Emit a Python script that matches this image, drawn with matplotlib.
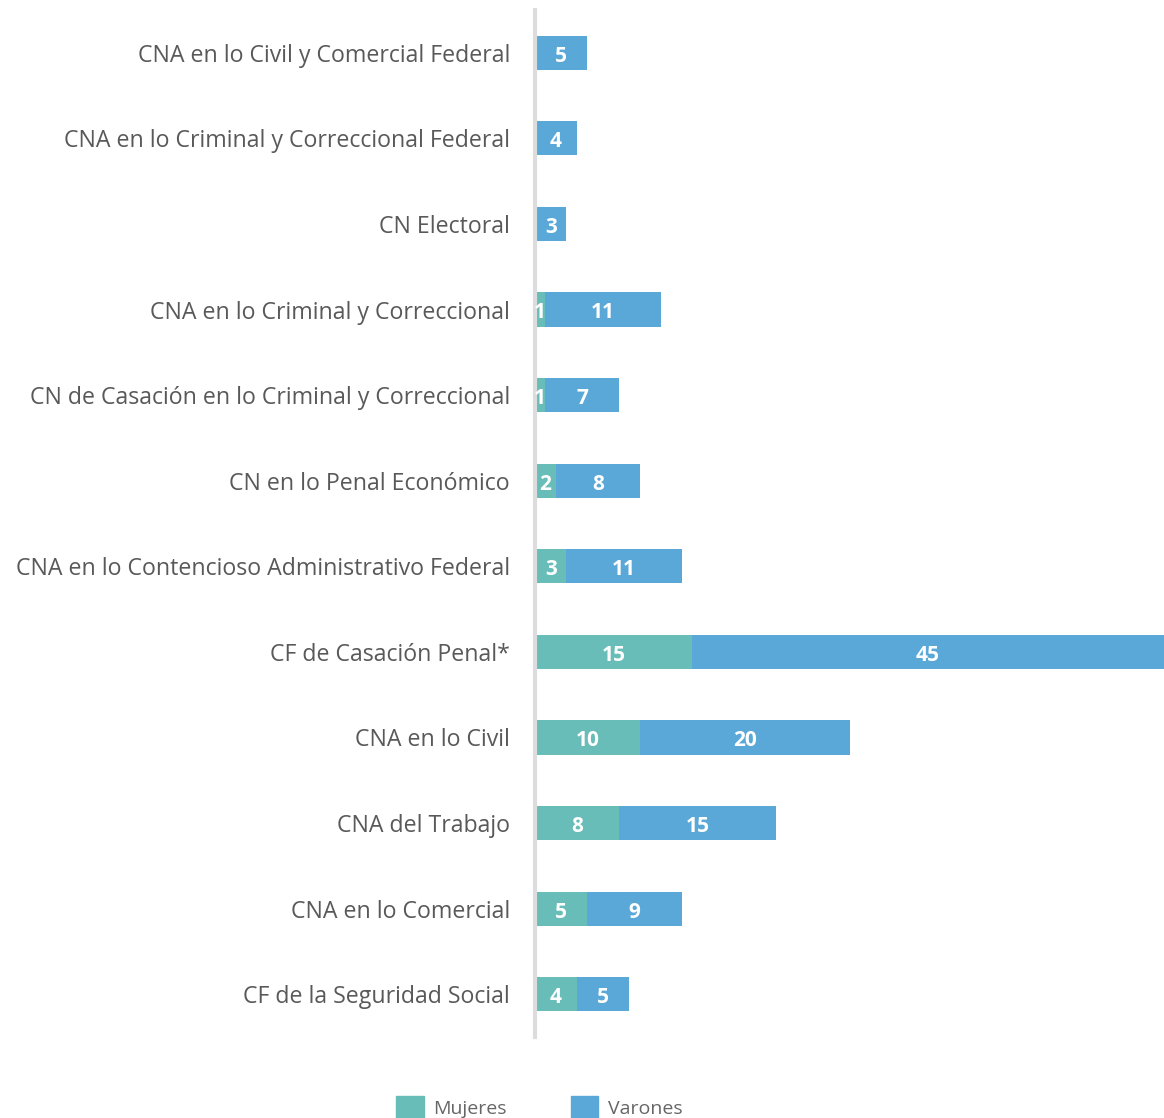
import matplotlib.pyplot as plt
from matplotlib import patches

plt.rcParams['font.family'] = ['Open Sans', 'DejaVu Sans']

camaras = [
    'CNA en lo Civil y Comercial Federal',
    'CNA en lo Criminal y Correccional Federal',
    'CN Electoral',
    'CNA en lo Criminal y Correccional',
    'CN de Casación en lo Criminal y Correccional',
    'CN en lo Penal Económico',
    'CNA en lo Contencioso Administrativo Federal',
    'CF de Casación Penal*',
    'CNA en lo Civil',
    'CNA del Trabajo',
    'CNA en lo Comercial',
    'CF de la Seguridad Social',
]
mujeres = [0, 0, 0, 1, 1, 2, 3, 15, 10, 8, 5, 4]
varones = [5, 4, 3, 11, 7, 8, 11, 45, 20, 15, 9, 5]

c_muj = '#68bdb8'
c_var = '#5aa8d8'

fig = plt.figure(figsize=(11.64, 11.18), dpi=100)
ax = fig.add_axes([535 / 1164, 1 - 1037 / 1118, 1 - 535 / 1164, 1027 / 1118])

y = list(range(len(camaras)))
ax.barh(y, mujeres, height=0.4, color=c_muj, linewidth=0)
ax.barh(y, varones, left=mujeres, height=0.4, color=c_var, linewidth=0)

for i in y:
    if mujeres[i] > 0:
        ax.text(mujeres[i] / 2, i + 0.04, str(mujeres[i]), ha='center', va='center',
                color='white', fontsize=15, fontweight='bold')
    ax.text(mujeres[i] + varones[i] / 2, i + 0.04, str(varones[i]), ha='center', va='center',
            color='white', fontsize=15, fontweight='bold')

ax.set_xlim(0, 60)
ax.set_ylim(len(camaras) - 0.5, -0.5)
ax.set_yticks(y)
ax.set_yticklabels(camaras, fontsize=16.7, color='#595959', va='center_baseline')
ax.tick_params(axis='y', length=0, pad=18)
ax.set_xticks([])
for s in ['top', 'right', 'bottom']:
    ax.spines[s].set_visible(False)
ax.spines['left'].set_color('#dcdcdc')
ax.spines['left'].set_linewidth(3)

handles = [patches.Patch(color=c_muj, label='Mujeres'),
           patches.Patch(color=c_var, label='Varones')]
fig.legend(handles=handles, loc='lower center', bbox_to_anchor=(0.4635, -0.016), ncol=2,
           frameon=False, fontsize=14, labelcolor='#666666', handlelength=1.4,
           handleheight=1.4, handletextpad=0.5, columnspacing=3.3)

fig.savefig('out.png', dpi=100)
